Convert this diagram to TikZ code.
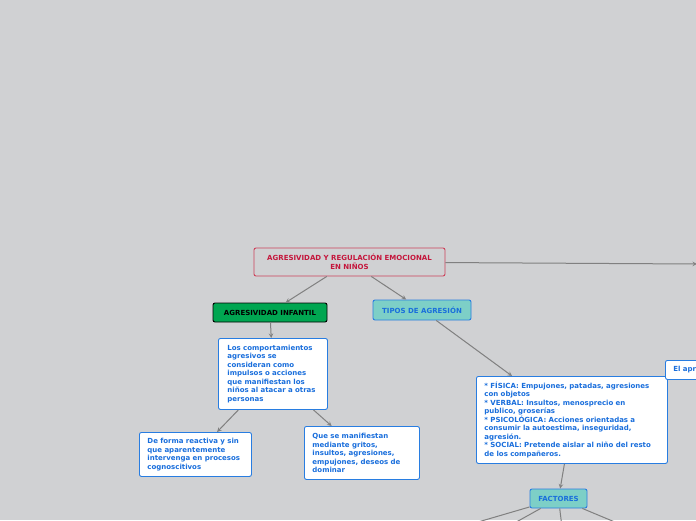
\documentclass[tikz,border=0pt]{standalone}
\usepackage{fontspec}
\setmainfont{DejaVu Sans}
\usepackage{tikz}
\definecolor{bggray}{RGB}{208,209,211}
\definecolor{rootred}{RGB}{205,65,90}
\definecolor{roottext}{RGB}{196,22,60}
\definecolor{mapgreen}{RGB}{0,166,81}
\definecolor{mapteal}{RGB}{125,207,199}
\definecolor{mapblue}{RGB}{40,125,225}
\definecolor{maptext}{RGB}{25,110,220}
\definecolor{linkgray}{RGB}{128,128,128}
\def\W{696}
\def\H{520}
\def\fs{\fontsize{7}{8.5}\selectfont\bfseries}

\begin{document}
\begin{tikzpicture}[x=1pt, y=-1pt,
    box/.style={rounded corners=2pt, line width=0.9pt, font=\fs, inner sep=0pt},
    rootbox/.style={box, draw=rootred, fill=bggray, text=roottext, align=center},
    greenbox/.style={box, draw=black, fill=mapgreen, text=black},
    tealbox/.style={box, draw=mapblue, fill=mapteal, text=maptext},
    notebox/.style={box, draw=mapblue, fill=white, text=maptext, align=left, inner xsep=8pt, anchor=north west},
    link/.style={draw=linkgray, line width=1pt, -stealth}]
    % background
  \useasboundingbox (0,0) rectangle (\W,\H);
  \fill[bggray] (0,0) rectangle (\W,\H);
  \clip (0,0) rectangle (\W,\H);

    % nodes
  \node[rootbox, minimum width=191pt, minimum height=28pt] (root) at (349.5,262)
    {AGRESIVIDAD Y REGULACIÓN EMOCIONAL\\EN NIÑOS};
  \node[greenbox, minimum width=114pt, minimum height=19pt] (infantil) at (270,312.5) {AGRESIVIDAD INFANTIL};
  \node[tealbox, minimum width=98pt, minimum height=20pt] (tipos) at (422,310) {TIPOS DE AGRESIÓN};
  \node[tealbox, minimum width=57pt, minimum height=19pt] (factores) at (558.5,498.5) {FACTORES};

  \node[notebox, inner xsep=9pt, text width=91pt, minimum height=71pt] (comport) at (218,338)
    {Los comportamientos\\agresivos se\\consideran como\\impulsos o acciones\\que manifiestan los\\niños al atacar a otras\\personas};
  \node[notebox, text width=96pt, minimum height=44pt] (reactiva) at (139,432)
    {De forma reactiva y sin\\que aparentemente\\intervenga en procesos\\cognoscitivos};
  \node[notebox, text width=99pt, minimum height=53pt] (gritos) at (304,426)
    {Que se manifiestan\\mediante gritos,\\insultos, agresiones,\\empujones, deseos de\\dominar};
  \node[notebox, text width=175pt, minimum height=87pt] (fisica) at (476,376)
    {{*} FÍSICA: Empujones, patadas, agresiones\\con objetos\\{*} VERBAL: Insultos, menosprecio en\\publico, groserías\\{*} PSICOLÓGICA: Acciones orientadas a\\consumir la autoestima, inseguridad,\\agresión.\\{*} SOCIAL: Pretende aislar al niño del resto\\de los compañeros.};
  \node[notebox, text width=60pt, minimum height=19pt] (aprend) at (665,360) {El apr};

    % off-screen ends
  \coordinate (offright) at (697,264);
  \coordinate (offa) at (348,560);
  \coordinate (offb) at (448,560);
  \coordinate (offc) at (566,560);
  \coordinate (offd) at (706,560);

    % arrows
  \draw[link] (root) -- (infantil);
  \draw[link] (root) -- (tipos);
  \draw[link] (root) -- (offright);
  \draw[link] (infantil) -- (comport);
  \draw[link] (comport) -- (reactiva);
  \draw[link] (comport) -- (gritos);
  \draw[link] (tipos) -- (fisica);
  \draw[link] (fisica) -- (factores);
  \foreach \p in {offa, offb, offc, offd}
    \draw[link] (factores) -- (\p);
\end{tikzpicture}
\end{document}
